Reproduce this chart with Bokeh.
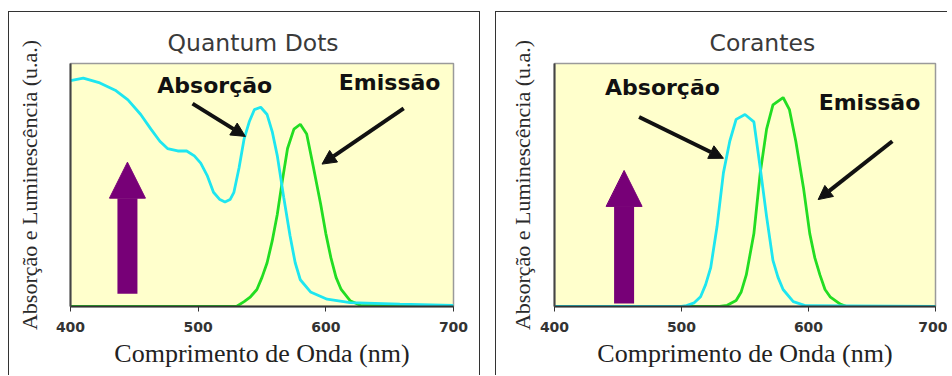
from bokeh.plotting import figure
from bokeh.layouts import row
from bokeh.models import Range1d, Arrow, NormalHead, FixedTicker
from bokeh.core.properties import value
from bokeh.embed import file_html
from bokeh.resources import INLINE

# ---------------- data ----------------
ticks = [400, 500, 600, 700]

qd_abs_nm = [400, 410, 423, 435, 445, 455, 463, 470, 476, 484, 491, 497, 502, 507, 512, 517, 521, 525, 528, 532, 536, 540, 544, 549, 554, 558, 562, 567, 572, 576, 580, 588, 601, 619, 658, 700]
qd_abs = [0.93, 0.94, 0.92, 0.89, 0.85, 0.79, 0.73, 0.68, 0.65, 0.64, 0.64, 0.62, 0.59, 0.54, 0.47, 0.44, 0.43, 0.44, 0.47, 0.57, 0.69, 0.76, 0.81, 0.82, 0.79, 0.72, 0.62, 0.45, 0.29, 0.18, 0.11, 0.06, 0.03, 0.016, 0.01, 0.005]

qd_em_nm = [400, 530, 536, 541, 546, 550, 554, 558, 562, 566, 570, 575, 580, 585, 590, 596, 600, 604, 608, 612, 619, 627, 700]
qd_em = [0, 0, 0.02, 0.04, 0.07, 0.12, 0.18, 0.27, 0.38, 0.52, 0.65, 0.73, 0.75, 0.71, 0.58, 0.42, 0.30, 0.20, 0.12, 0.07, 0.024, 0.005, 0]

dye_abs_nm = [400, 500, 504, 510, 515, 519, 523, 528, 533, 538, 543, 550, 557, 562, 567, 572, 576, 580, 588, 598, 700]
dye_abs = [0, 0, 0.004, 0.015, 0.04, 0.09, 0.16, 0.33, 0.55, 0.68, 0.77, 0.79, 0.76, 0.57, 0.37, 0.19, 0.12, 0.07, 0.02, 0.003, 0]

dye_em_nm = [400, 530, 536, 543, 547, 551, 557, 562, 567, 572, 580, 585, 590, 596, 601, 605, 609, 613, 617, 625, 630, 700]
dye_em = [0, 0, 0.005, 0.025, 0.06, 0.13, 0.30, 0.55, 0.73, 0.83, 0.86, 0.81, 0.68, 0.49, 0.30, 0.20, 0.13, 0.07, 0.04, 0.01, 0, 0]

# annotation anchors (data units)
qd_labels = ["Absorção", "Emissão"]
qd_label_x = [513, 650]
qd_label_y = [0.91, 0.92]
qd_arrow_x0 = [495.6, 661]
qd_arrow_y0 = [0.835, 0.815]
qd_arrow_x1 = [537, 597]
qd_arrow_y1 = [0.70, 0.586]
qd_uv = (444.6, 0.052, 0.594)

dye_labels = ["Absorção", "Emissão"]
dye_label_x = [485, 648]
dye_label_y = [0.90, 0.84]
dye_arrow_x0 = [466.6, 666]
dye_arrow_y0 = [0.78, 0.68]
dye_arrow_x1 = [533, 607.6]
dye_arrow_y1 = [0.61, 0.44]
dye_uv = (454.8, 0.012, 0.56)

CYAN = "#1ee6f0"
GREEN = "#22dd22"
PURPLE = "#770077"
BG = "#ffffcc"


def make_panel(title, title_offset, width, height, mb, ylab_standoff, styles, margin,
               abs_x, abs_y, em_x, em_y, labels, lx, ly, ax0, ay0, ax1, ay1, uv):
    p = figure(width=width, height=height, output_backend="svg", toolbar_location=None,
               x_range=Range1d(400, 700), y_range=Range1d(0, 1),
               min_border_left=mb[0], min_border_right=mb[1],
               min_border_top=mb[2], min_border_bottom=mb[3],
               styles=styles, margin=margin)
    p.background_fill_color = BG
    p.border_fill_color = "white"
    p.outline_line_color = "#9a9a9a"
    p.outline_line_width = 1.5
    p.xgrid.visible = False
    p.ygrid.visible = False

    p.title.text = title
    p.title.align = "left"
    p.title.offset = title_offset
    p.title.text_font = "DejaVu Sans"
    p.title.text_font_size = "23.5px"
    p.title.text_font_style = "normal"
    p.title.text_color = "#3a3a3a"
    p.title.standoff = 14

    p.xaxis.ticker = FixedTicker(ticks=ticks)
    p.xaxis.minor_tick_line_color = None
    p.xaxis.major_tick_in = 0
    p.xaxis.major_tick_out = 5
    p.xaxis.major_tick_line_color = "#333333"
    p.xaxis.axis_line_color = "#333333"
    p.xaxis.axis_line_width = 2
    p.xaxis.major_label_text_font = "DejaVu Sans"
    p.xaxis.major_label_text_font_style = "bold"
    p.xaxis.major_label_text_font_size = "14px"
    p.xaxis.major_label_text_color = "#333333"
    p.xaxis.major_label_standoff = 10
    p.xaxis.axis_label = "Comprimento de Onda (nm)"
    p.xaxis.axis_label_text_font = "Liberation Serif"
    p.xaxis.axis_label_text_font_style = "normal"
    p.xaxis.axis_label_text_font_size = "26px"
    p.xaxis.axis_label_text_color = "#222222"
    p.xaxis.axis_label_standoff = 4

    p.yaxis.ticker = FixedTicker(ticks=[])
    p.yaxis.minor_tick_line_color = None
    p.yaxis.axis_line_color = "#444444"
    p.yaxis.axis_line_width = 2
    p.yaxis.axis_label = "Absorção e Luminescência (u.a.)"
    p.yaxis.axis_label_text_font = "Liberation Serif"
    p.yaxis.axis_label_text_font_style = "normal"
    p.yaxis.axis_label_text_font_size = "22px"
    p.yaxis.axis_label_text_color = "#2a2a2a"
    p.yaxis.axis_label_standoff = ylab_standoff

    p.line(em_x, em_y, line_color=GREEN, line_width=2.8)
    p.line(abs_x, abs_y, line_color=CYAN, line_width=2.8)

    # excitation arrow
    p.add_layout(Arrow(x_start=uv[0], y_start=uv[1], x_end=uv[0], y_end=uv[2],
                       line_color=PURPLE, line_width=20, line_cap="butt",
                       end=NormalHead(size=36, fill_color=PURPLE, line_color=PURPLE, line_width=1)))
    # pointer arrows
    for i in range(len(ax0)):
        p.add_layout(Arrow(x_start=ax0[i], y_start=ay0[i], x_end=ax1[i], y_end=ay1[i],
                           line_color="#111111", line_width=4,
                           end=NormalHead(size=14, fill_color="#111111", line_color="#111111", line_width=1)))

    p.text(x=lx, y=ly, text=labels, text_font=value("DejaVu Sans"), text_font_style="bold",
           text_font_size="22px", text_color="#111111", text_baseline="middle", text_align="center")
    return p


border = "1.5px solid #333333"
p1 = make_panel("Quantum Dots", 97, 472, 364, (61, 28, 50, 66), 29,
                {"border-left": border, "border-top": border, "border-right": border},
                (11, 0, 0, 8),
                qd_abs_nm, qd_abs, qd_em_nm, qd_em,
                qd_labels, qd_label_x, qd_label_y,
                qd_arrow_x0, qd_arrow_y0, qd_arrow_x1, qd_arrow_y1, qd_uv)
p2 = make_panel("Corantes", 155, 452, 364, (58, 13, 51, 70), 20,
                {"border-left": border, "border-top": border},
                (11, 0, 0, 15),
                dye_abs_nm, dye_abs, dye_em_nm, dye_em,
                dye_labels, dye_label_x, dye_label_y,
                dye_arrow_x0, dye_arrow_y0, dye_arrow_x1, dye_arrow_y1, dye_uv)

layout = row(p1, p2)
open("out.html", "w").write(file_html(layout, INLINE))
